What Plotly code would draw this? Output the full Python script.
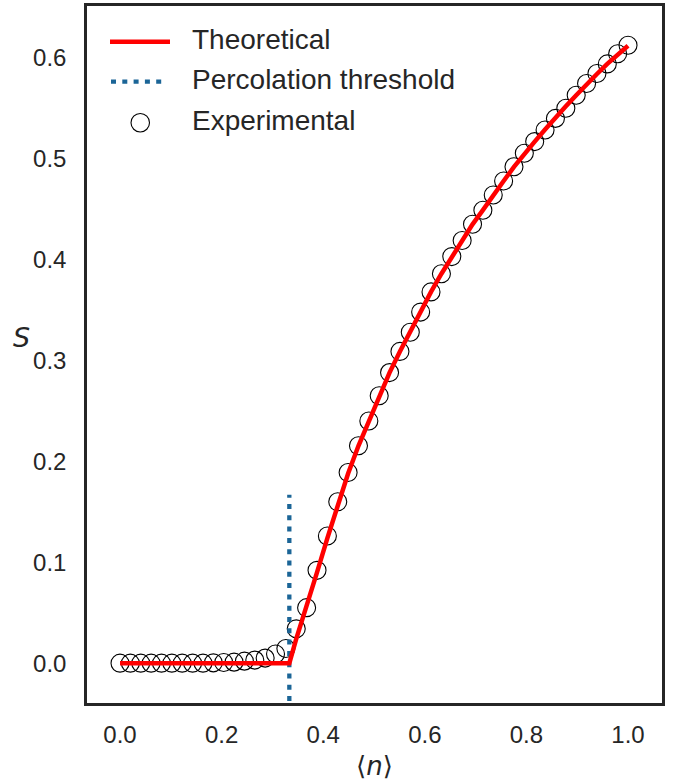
import plotly.graph_objects as go

# ---------------- data ----------------
n_exp = [0.0, 0.0204, 0.0408, 0.0612, 0.0816, 0.102, 0.1224, 0.1429, 0.1633, 0.1837,
         0.2041, 0.2245, 0.2449, 0.2653, 0.2857, 0.3061, 0.3265, 0.3469, 0.3673, 0.3878,
         0.4082, 0.4286, 0.449, 0.4694, 0.4898, 0.5102, 0.5306, 0.551, 0.5714, 0.5918,
         0.6122, 0.6327, 0.6531, 0.6735, 0.6939, 0.7143, 0.7347, 0.7551, 0.7755, 0.7959,
         0.8163, 0.8367, 0.8571, 0.8776, 0.898, 0.9184, 0.9388, 0.9592, 0.9796, 1.0]
s_exp = [0.0, 0.0, 0.0, 0.0, 0.0, 0.0, 0.0, 0.0, 0.0, 0.0003,
         0.0006, 0.001, 0.002, 0.003, 0.005, 0.009, 0.0145, 0.034, 0.055, 0.092,
         0.126, 0.160, 0.189, 0.2155, 0.240, 0.265, 0.288, 0.309, 0.328, 0.348,
         0.368, 0.386, 0.403, 0.419, 0.435, 0.449, 0.464, 0.478, 0.492, 0.5054,
         0.517, 0.5285, 0.540, 0.550, 0.563, 0.5746, 0.5845, 0.594, 0.604, 0.6125]

n_theo = [0.0, 0.3333, 0.3469, 0.3673, 0.3878, 0.4082, 0.4286, 0.449, 0.4694, 0.4898,
          0.5102, 0.5306, 0.551, 0.5714, 0.5918, 0.6122, 0.6327, 0.6531, 0.6735, 0.6939,
          0.7143, 0.7347, 0.7551, 0.7755, 0.7959, 0.8163, 0.8367, 0.8571, 0.8776, 0.898,
          0.9184, 0.9388, 0.9592, 0.9796, 1.0]
s_theo = [0.0, 0.0, 0.024, 0.056, 0.090, 0.124, 0.157, 0.188, 0.2155, 0.240,
          0.265, 0.288, 0.309, 0.329, 0.348, 0.368, 0.386, 0.403, 0.419, 0.435,
          0.449, 0.464, 0.478, 0.492, 0.505, 0.517, 0.529, 0.541, 0.552, 0.563,
          0.574, 0.584, 0.594, 0.603, 0.612]

threshold_n = [0.3333, 0.3333]
threshold_s = [-0.06, 0.167]

x_ticks = [0.0, 0.2, 0.4, 0.6, 0.8, 1.0]
y_ticks = [0.0, 0.1, 0.2, 0.3, 0.4, 0.5, 0.6]
legend_labels = ["Theoretical", "Percolation threshold", "Experimental"]

# ---------------- layout constants ----------------
W, H = 674, 784
L, R, T, B = 87, 12, 3, 81
PW, PH = W - L - R, H - T - B
RED = "#ff0000"
BLUE = "#1b6597"
INK = "#262626"
FONT = "Liberation Sans, Arial, sans-serif"


def px_x(px):
    return (px - L) / PW


def px_y(py):
    return (H - B - py) / PH


fig = go.Figure()

fig.add_trace(go.Scatter(
    x=n_exp, y=s_exp, mode="markers", showlegend=False,
    marker=dict(symbol="circle", size=18, color="rgba(0,0,0,0)",
                line=dict(color="black", width=1.1)),
    cliponaxis=False))

fig.add_trace(go.Scatter(
    x=threshold_n, y=threshold_s, mode="lines", showlegend=False,
    line=dict(color=BLUE, width=4.3, dash="5px,6.3px")))

fig.add_trace(go.Scatter(
    x=n_theo, y=s_theo, mode="lines", showlegend=False,
    line=dict(color=RED, width=4.5)))

# ---- manual legend ----
shapes = [
    dict(type="line", xref="paper", yref="paper", x0=px_x(110), x1=px_x(170),
         y0=px_y(39), y1=px_y(39), line=dict(color=RED, width=4.5)),
    dict(type="line", xref="paper", yref="paper", x0=px_x(111), x1=px_x(166),
         y0=px_y(79), y1=px_y(79), line=dict(color=BLUE, width=4.3, dash="5px,6.3px")),
    dict(type="circle", xref="paper", yref="paper", x0=px_x(131), x1=px_x(149.5),
         y0=px_y(129.5), y1=px_y(111), line=dict(color="black", width=1.1)),
]
annotations = []
for lbl, yc in zip(legend_labels, [37, 77, 118]):
    annotations.append(dict(text=lbl, xref="paper", yref="paper", x=px_x(190), y=px_y(yc),
                            xanchor="left", yanchor="middle", showarrow=False,
                            font=dict(family=FONT, size=28, color=INK)))

annotations.append(dict(text="<i>S</i>", xref="paper", yref="paper", x=px_x(21), y=px_y(336),
                        xanchor="center", yanchor="middle", showarrow=False,
                        font=dict(family="DejaVu Sans", size=27, color=INK)))
annotations.append(dict(text="⟨<i>n</i>⟩", xref="paper", yref="paper", x=px_x(374), y=px_y(766),
                        xanchor="center", yanchor="middle", showarrow=False,
                        font=dict(family="DejaVu Sans", size=26, color=INK)))

fig.update_layout(
    width=W, height=H,
    margin=dict(l=L, r=R, t=T, b=B),
    paper_bgcolor="white", plot_bgcolor="white",
    shapes=shapes, annotations=annotations,
    xaxis=dict(range=[-0.065, 1.0669], tickvals=x_ticks, tickformat=".1f",
               showgrid=False, zeroline=False, showline=True, mirror=True,
               linecolor=INK, linewidth=2.5, ticks="", ticklabelstandoff=8,
               tickfont=dict(family=FONT, size=24, color=INK)),
    yaxis=dict(range=[-0.0395, 0.6514], tickvals=y_ticks, tickformat=".1f",
               showgrid=False, zeroline=False, showline=True, mirror=True,
               linecolor=INK, linewidth=2.5, ticks="", ticklabelstandoff=13,
               tickfont=dict(family=FONT, size=24, color=INK)),
)

fig.write_html("out.html", config={"displayModeBar": False},
               post_script="document.body.style.margin='0';document.body.style.padding='0';")
